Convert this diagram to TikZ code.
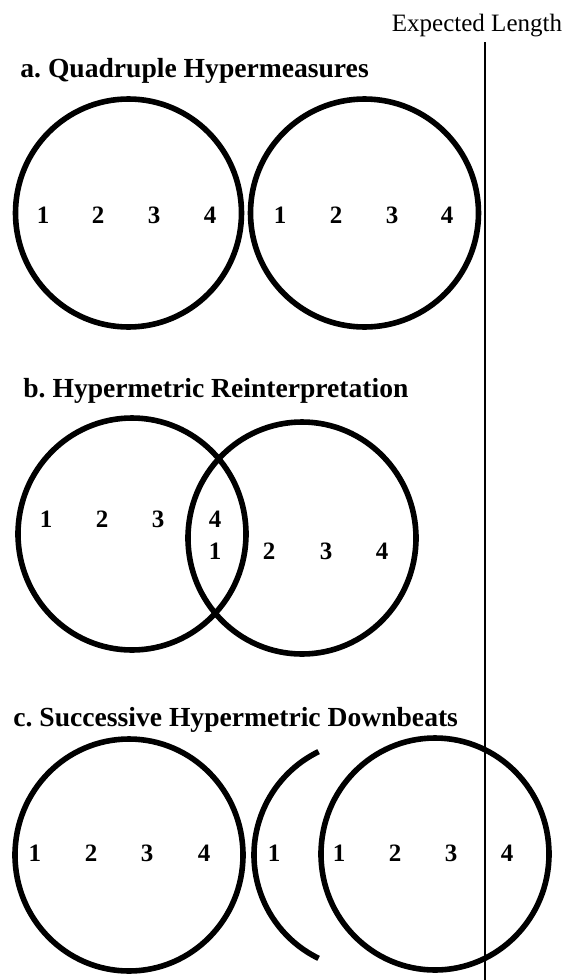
\documentclass[tikz,border=0pt]{standalone}
\usepackage{fontspec}
\setmainfont{Liberation Serif}
\usepackage{tikz}

\frenchspacing
\tikzset{
   hyper/.style={line width=2.8pt},
   beat/.style={font=\fontsize{12.5}{14}\selectfont\bfseries, inner sep=0pt},
   heading/.style={font=\fontsize{13.8}{16}\selectfont\bfseries, anchor=base west, inner sep=0pt},
}

\begin{document}
\begin{tikzpicture}[x=0.5pt,y=-0.5pt]
   \useasboundingbox (0,0) rectangle (573,980);

   % Expected length marker
   \node[font=\fontsize{12.5}{15}\selectfont, anchor=base, inner sep=0pt] (expLen) at (477,31) {Expected Length};
   \coordinate (lineTop) at (485,42);
   \coordinate (lineBot) at (485,980);
   \draw[line width=0.7pt] (lineTop) -- (lineBot);

   % a. Quadruple Hypermeasures
   \begin{scope}
      \node[heading] (ttlA) at (20,77) {a. Quadruple Hypermeasures};
      \draw[hyper] (128.5,213) ellipse (113 and 114);
      \draw[hyper] (364.5,213) ellipse (114 and 114);

      \node[beat] (a1) at (43,215) {1};
      \node[beat] (a2) at (98,215) {2};
      \node[beat] (a3) at (154,215) {3};
      \node[beat] (a4) at (210,215) {4};
      \node[beat] (a5) at (280,215) {1};
      \node[beat] (a6) at (336,215) {2};
      \node[beat] (a7) at (392,215) {3};
      \node[beat] (a8) at (447,215) {4};
   \end{scope}

   % b. Hypermetric Reinterpretation
   \begin{scope}
      \node[heading] (ttlB) at (23,397) {b. Hypermetric Reinterpretation};
      \draw[hyper] (132,534) ellipse (114 and 116);
      \draw[hyper] (302,538) ellipse (114 and 116);

      \node[beat] (b1) at (46,519) {1};
      \node[beat] (b2) at (102,519) {2};
      \node[beat] (b3) at (158,519) {3};
      \node[beat] (b4) at (215,519) {4};
      \node[beat] (b5) at (215,551) {1};
      \node[beat] (b6) at (269,551) {2};
      \node[beat] (b7) at (326,551) {3};
      \node[beat] (b8) at (382,551) {4};
   \end{scope}

   % c. Successive Hypermetric Downbeats
   \begin{scope}
      \node[heading] (ttlC) at (13,726) {c. Successive Hypermetric Downbeats};
      \draw[hyper] (129,855) ellipse (114 and 116);
      \draw[hyper] (369,855) ++(116:115) arc (116:244:115);
      \draw[hyper] (435,854) ellipse (114 and 116);

      \node[beat] (c1) at (35,853) {1};
      \node[beat] (c2) at (91,853) {2};
      \node[beat] (c3) at (147,853) {3};
      \node[beat] (c4) at (204,853) {4};
      \node[beat] (c5) at (274,853) {1};
      \node[beat] (c6) at (339,853) {1};
      \node[beat] (c7) at (395,853) {2};
      \node[beat] (c8) at (451,853) {3};
      \node[beat] (c9) at (507,853) {4};
   \end{scope}
\end{tikzpicture}
\end{document}
